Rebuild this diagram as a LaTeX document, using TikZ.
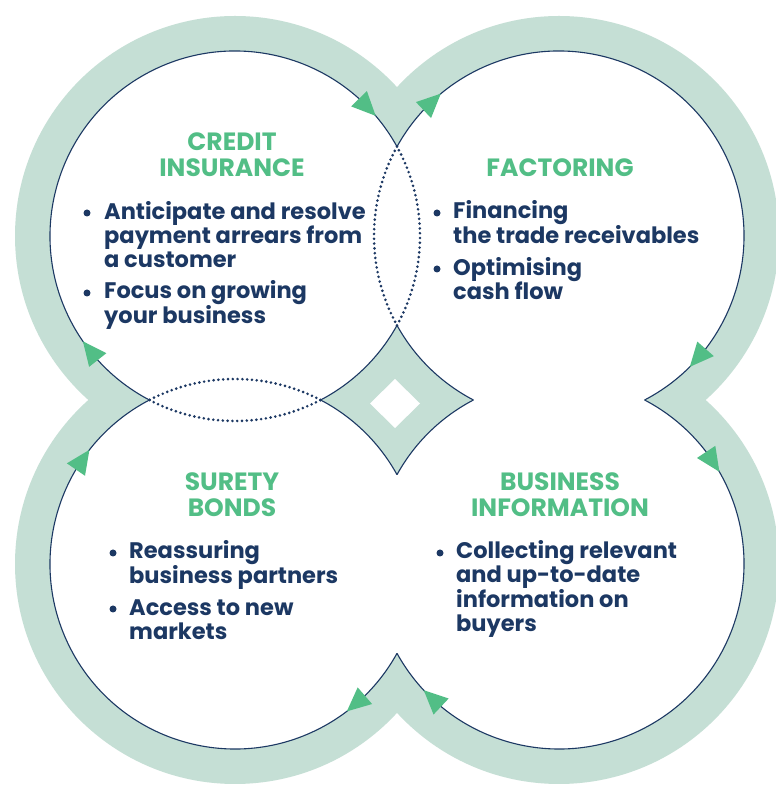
\documentclass[tikz,border=0pt]{standalone}
\usepackage{fontspec}
\setmainfont{Poppins}
\usetikzlibrary{calc}

\begin{document}
\begin{tikzpicture}[x=1pt,y=1pt,
  ring/.style={fill=ringColor},
  hole/.style={fill=white},
  rim/.style={draw=navyColor,line width=1.1pt},
  rimdots/.style={draw=navyColor,line width=2.9pt,line cap=round,dash pattern=on 0pt off 4.8pt},
  tipmark/.style={fill=greenColor},
  heading/.style={text=greenColor,font=\bfseries\fontsize{25}{26}\selectfont,align=center,inner sep=0pt},
  item/.style={text=navyColor,font=\bfseries\fontsize{22.5}{24}\selectfont,align=left,inner sep=0pt,anchor=base west},
  dot/.style={circle,fill=navyColor,inner sep=0pt,minimum size=7pt}]
\definecolor{ringColor}{RGB}{197,223,213}
\definecolor{navyColor}{RGB}{28,56,99}
\definecolor{greenColor}{RGB}{82,190,134}
\path[use as bounding box,fill=white] (0,0) rectangle (776,787);

\coordinate (tl) at (235,551);
\coordinate (tr) at (559,551);
\coordinate (bl) at (235,223);
\coordinate (br) at (559,223);

% sage rings and white discs
\begin{scope}
\foreach \c in {tl,tr,bl,br}
  \path[ring] (\c) circle[radius=220pt];
\path[hole] (370,383.5) -- (395,408) -- (420,383.5) -- (395,359) -- cycle;
\foreach \c in {tl,tr,bl,br}
  \path[hole] (\c) circle[radius=185pt];
\end{scope}

% outlines: solid outside, dotted where discs overlap
\begin{scope}
\draw[rim] (tl) ++( 28.87:185) arc[start angle= 28.87,end angle=242.44,radius=185pt];
\draw[rim] (tl) ++(297.56:185) arc[start angle=297.56,end angle=331.13,radius=185pt];
\draw[rim] (tr) ++(297.56:185) arc[start angle=297.56,end angle=511.13,radius=185pt];
\draw[rim] (tr) ++(208.87:185) arc[start angle=208.87,end angle=242.44,radius=185pt];
\draw[rim] (bl) ++(117.56:185) arc[start angle=117.56,end angle=331.13,radius=185pt];
\draw[rim] (bl) ++( 28.87:185) arc[start angle= 28.87,end angle= 62.44,radius=185pt];
\draw[rim] (br) ++(208.87:185) arc[start angle=208.87,end angle=422.44,radius=185pt];
\draw[rim] (br) ++(117.56:185) arc[start angle=117.56,end angle=151.13,radius=185pt];

\draw[rimdots] (tl) ++(-28.87:185) arc[start angle=-28.87,end angle= 28.87,radius=185pt];
\draw[rimdots] (tl) ++(242.44:185) arc[start angle=242.44,end angle=297.56,radius=185pt];
\draw[rimdots] (tr) ++(151.13:185) arc[start angle=151.13,end angle=208.87,radius=185pt];
\draw[rimdots] (bl) ++( 62.44:185) arc[start angle= 62.44,end angle=117.56,radius=185pt];
\end{scope}

% clockwise arrow marks
\foreach \c/\a in {tl/40.5,tl/214.7,tr/129.7,tr/-45,br/29.9,br/223,bl/141.9,bl/-52.8}{
  \path (\c) ++(\a:185) coordinate (tip);
  \path (\c) ++(\a+7.4:185) coordinate (tail);
  \path[tipmark] (tip) -- ($(tail)!11pt!90:(tip)$) -- ($(tail)!11pt!-90:(tip)$) -- cycle;
}

% headings
\node[heading] (credit) at (232,632) {CREDIT\\INSURANCE};
\node[heading] (factoring) at (560,619) {FACTORING};
\node[heading] (surety) at (232,292) {SURETY\\BONDS};
\node[heading] (info) at (560,292) {BUSINESS\\INFORMATION};

% bullet items (anchored at the baseline of their last line)
\node[dot] (credit-b1) at ( 87,574) {};
\node[item] (credit-i1) at (104,519) {Anticipate and resolve\\payment arrears from\\a customer};
\node[dot] (credit-b2) at ( 87,494) {};
\node[item] (credit-i2) at (104,463) {Focus on growing\\your business};

\node[dot] (factoring-b1) at (437,574) {};
\node[item] (factoring-i1) at (453,543) {Financing\\the trade receivables};
\node[dot] (factoring-b2) at (437,518) {};
\node[item] (factoring-i2) at (453,487) {Optimising\\cash flow};

\node[dot] (surety-b1) at (113,234) {};
\node[item] (surety-i1) at (129,203) {Reassuring\\business partners};
\node[dot] (surety-b2) at (113,178) {};
\node[item] (surety-i2) at (129,147) {Access to new\\markets};

\node[dot] (info-b1) at (440,234) {};
\node[item] (info-i1) at (456,155) {Collecting relevant\\and up-to-date\\information on\\buyers};
\end{tikzpicture}
\end{document}
